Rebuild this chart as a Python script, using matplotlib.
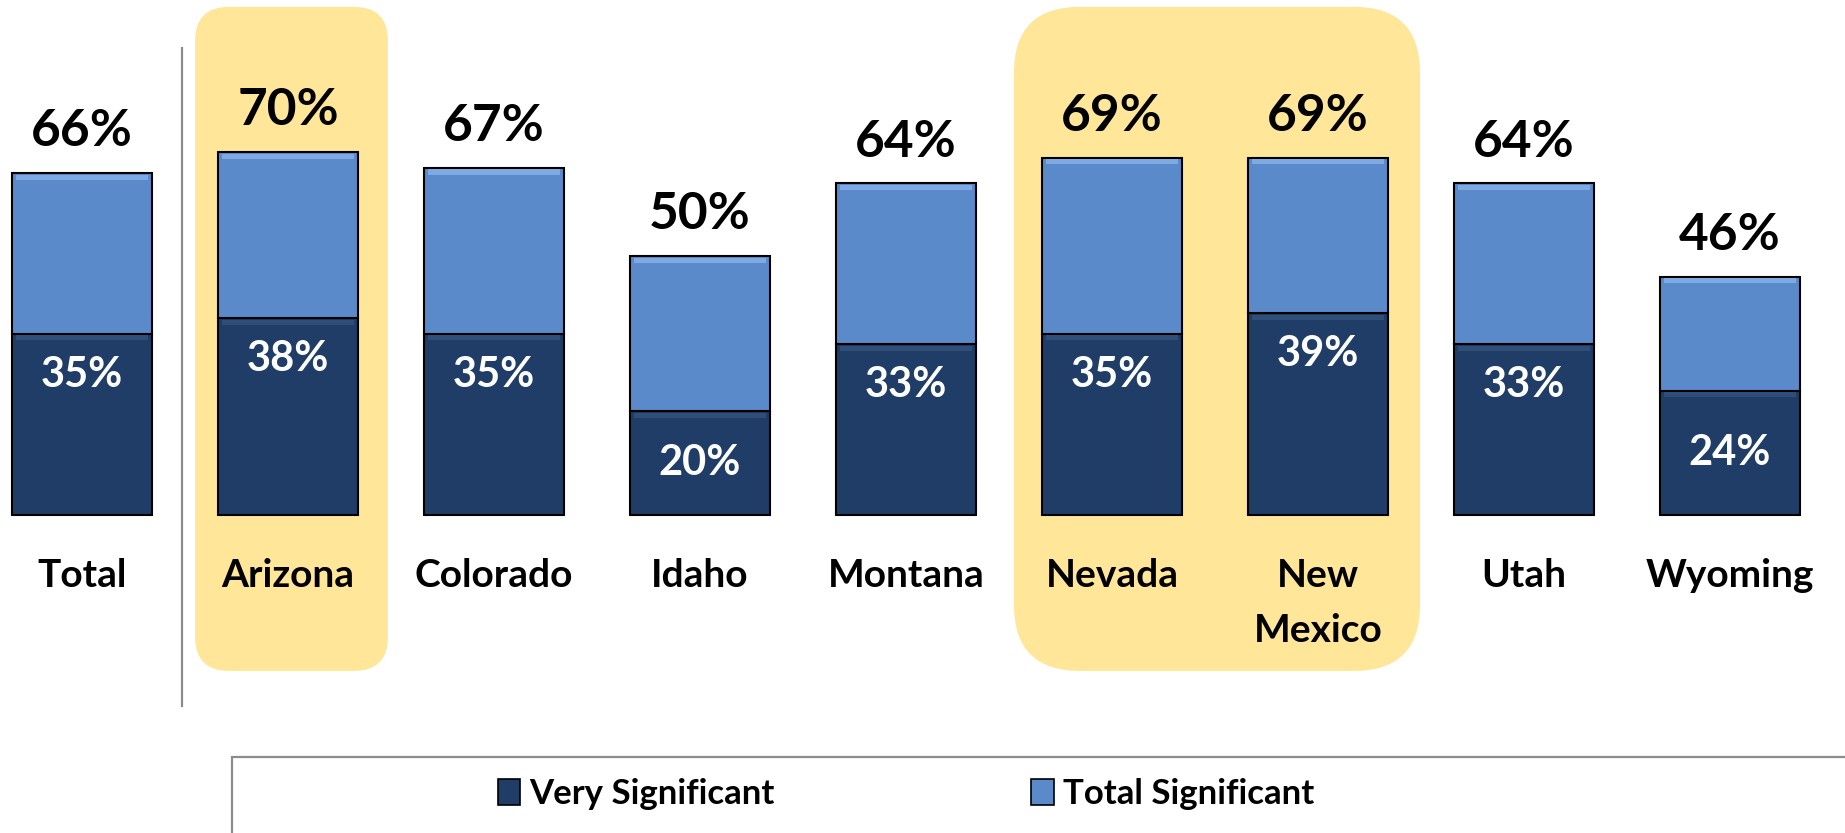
import numpy as np
import matplotlib
matplotlib.use("Agg")
import matplotlib.pyplot as plt
from matplotlib.patches import FancyBboxPatch, Rectangle

plt.rcParams['font.family'] = ['Lato', 'DejaVu Sans']
plt.rcParams['font.weight'] = 'bold'

categories = ['Total', 'Arizona', 'Colorado', 'Idaho', 'Montana', 'Nevada', 'New\nMexico', 'Utah', 'Wyoming']
very_sig = [35, 38, 35, 20, 33, 35, 39, 33, 24]
total_sig = [66, 70, 67, 50, 64, 69, 69, 64, 46]
series_names = ['Very Significant', 'Total Significant']

dark = '#1F3D66'
light = '#5A8ACA'
dark_hi = '#2F4F7A'
light_hi = '#7DAAE2'
yellow = '#FFE699'

fig = plt.figure(figsize=(18.45, 8.33), dpi=100)
ax = fig.add_axes([0, 0, 1, 1])
ax.axis('off')
# pixel layout: bar i centred at 82 + 206*i px, baseline 515 px from top, 1% = 5.18 px
ax.set_xlim(-82 / 206, (1845 - 82) / 206)
ax.set_ylim(-(833 - 515) / 5.18, 515 / 5.18)

x = np.arange(len(categories))
w = 0.675
aspect = (1 / 5.18) / (1 / 206)

# highlight boxes behind Arizona and Nevada / New Mexico
for x0, x1, r in [(0.549, 1.485, 34), (4.524, 6.495, 66)]:
    box = FancyBboxPatch((x0, -30.1), x1 - x0, 128.2,
                         boxstyle="round,pad=0,rounding_size=%f" % (r / 206),
                         mutation_aspect=aspect, facecolor=yellow, edgecolor='none', zorder=0)
    ax.add_patch(box)

# separator line after Total
ax.plot([0.485, 0.485], [-36.9, 90.2], color='#8C8C8C', lw=1.6, zorder=1)

very = np.array(very_sig)
tot = np.array(total_sig)
b1 = ax.bar(x, very, width=w, color=dark, edgecolor='black', linewidth=1.5, zorder=2)
b2 = ax.bar(x, tot - very, bottom=very, width=w, color=light, edgecolor='black', linewidth=1.5, zorder=2)

# soft bevel at segment tops
ax.bar(x, np.full(len(x), 1.0), bottom=very - 1.3, width=w * 0.95, color=dark_hi, zorder=3, linewidth=0)
ax.bar(x, np.full(len(x), 1.0), bottom=tot - 1.3, width=w * 0.95, color=light_hi, zorder=3, linewidth=0)

for xi, v, t, c in zip(x, very, tot, categories):
    ax.text(xi, t + 8.0, f'{t}%', ha='center', va='center', fontsize=37, color='black', zorder=4)
    ypos = v - 7.9 if v >= 30 else v / 2
    ax.text(xi, ypos, f'{v}%', ha='center', va='center', fontsize=30, color='white', zorder=4)
    for k, line in enumerate(c.split('\n')):
        ax.text(xi, -13.9 - 10.7 * k, line, ha='center', va='baseline', fontsize=28,
                color='black', zorder=4)

# legend frame
ax.add_patch(Rectangle((0.728, -75), 12, 75 - 46.7, facecolor='white', edgecolor='#8C8C8C',
                       lw=1.6, zorder=1, clip_on=False))
hl = [Rectangle((0, 0), 1, 1, facecolor=dark, edgecolor='black', lw=1.2),
      Rectangle((0, 0), 1, 1, facecolor=light, edgecolor='black', lw=1.2)]
fig.legend(hl, series_names, loc='center', bbox_to_anchor=(0.491, 0.047), ncol=2,
           frameon=False, fontsize=25, handlelength=0.65, handleheight=0.8,
           handletextpad=0.25, columnspacing=7.4)

fig.savefig('out.png', dpi=100)
